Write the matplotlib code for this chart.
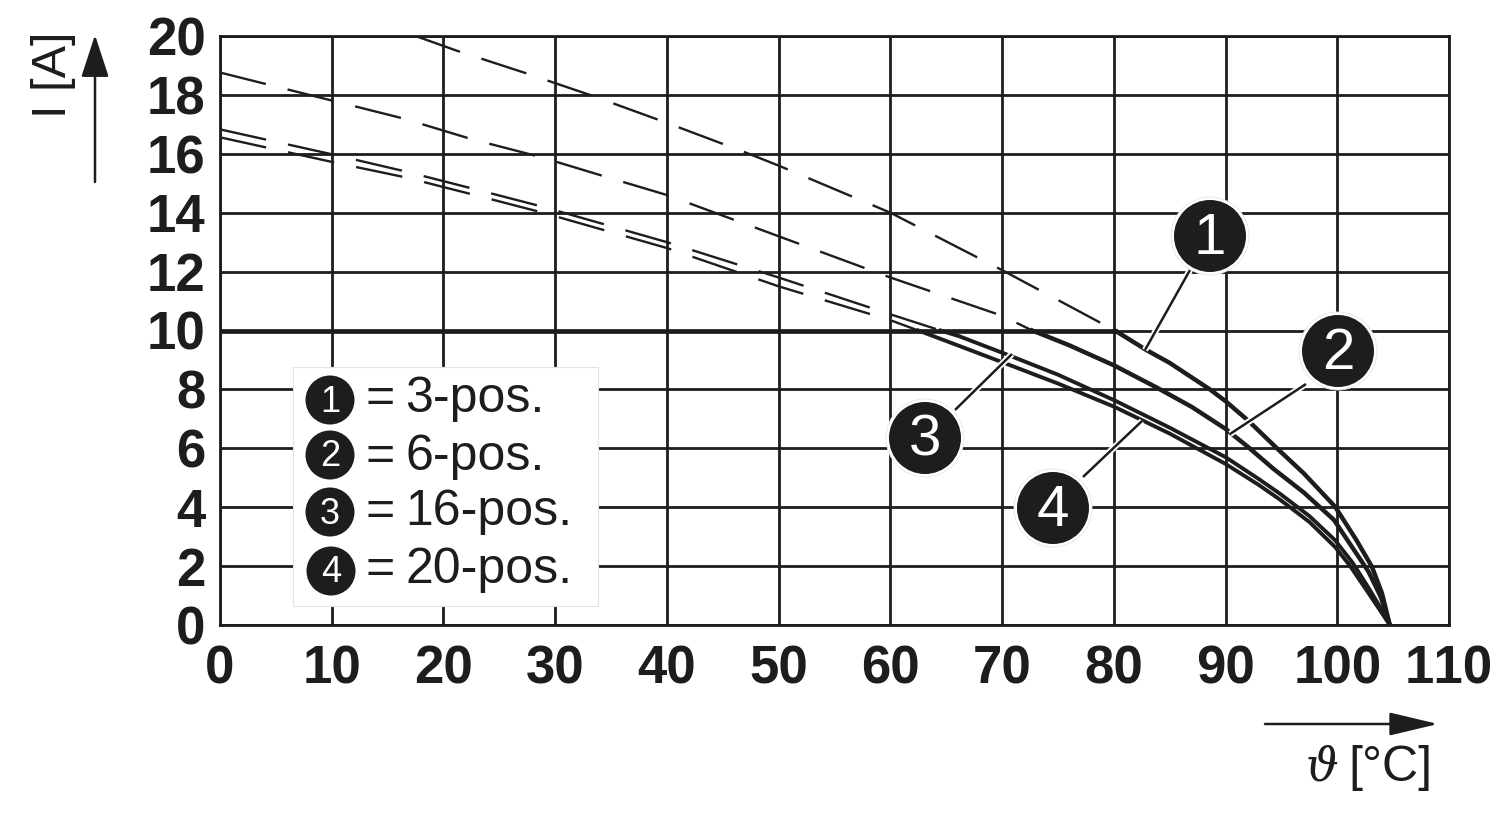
import numpy as np
import matplotlib
matplotlib.use("Agg")
from matplotlib import pyplot as plt
from matplotlib.patches import Circle, Rectangle

plt.rcParams['font.family'] = ['Liberation Sans', 'DejaVu Sans']
plt.rcParams['text.kerning_factor'] = 10

INK = '#1d1d1b'

# values: temperature, current
dash1_x = [17.5, 21.2, 27.2, 33.1, 40, 47, 50, 60, 70, 80.1]
dash1_y = [20, 19.5, 18.76, 18, 17.05, 16.05, 15.6, 14, 12.05, 10]
dash2_x = [0, 10.1, 16.4, 22.5, 28.6, 34.7, 40, 50, 60, 70, 72.7]
dash2_y = [18.76, 17.8, 17.2, 16.5, 15.9, 15.2, 14.6, 13.2, 11.8, 10.5, 10]
dash3_x = [0, 10.3, 16.6, 22.8, 28.9, 40, 50, 60, 64.5]
dash3_y = [16.83, 15.96, 15.4, 14.8, 14.2, 13, 11.8, 10.55, 10]
dash4_x = [0, 10.3, 16.6, 22.8, 28.9, 40, 50, 60, 62.5]
dash4_y = [16.56, 15.7, 15.2, 14.6, 14, 12.8, 11.5, 10.35, 10]

solid1_x = [80.1, 82.9, 85, 88.6, 90, 92, 94.6, 97, 99.8, 101.7, 103.1, 104, 104.7]
solid1_y = [10, 9.34, 8.9, 8.0, 7.6, 6.95, 6.0, 5.15, 4.02, 2.89, 1.98, 1.08, 0]
solid2_x = [72.7, 76, 80.1, 83.8, 87, 90, 92, 94.3, 97, 99.7, 101.3, 102.8, 103.9, 104.7]
solid2_y = [10, 9.5, 8.8, 8.07, 7.4, 6.66, 6.05, 5.3, 4.5, 3.57, 2.66, 1.81, 0.95, 0]
solid3_x = [64.5, 66.2, 70.8, 75, 80.1, 85, 90, 93, 94.9, 97.5, 99.8, 101.4, 102.9, 104, 104.7]
solid3_y = [10, 9.8, 9.13, 8.5, 7.62, 6.7, 5.7, 4.95, 4.45, 3.7, 2.88, 2.1, 1.2, 0.5, 0]
solid4_x = [62.5, 66, 70.8, 75, 80.1, 85, 90, 93, 94.9, 97.5, 99.8, 101.1, 102.8, 104, 104.7]
solid4_y = [10, 9.5, 8.81, 8.2, 7.4, 6.5, 5.47, 4.75, 4.25, 3.5, 2.65, 2.03, 1.08, 0.4, 0]

limit_x = [0, 80.1]
limit_y = [10, 10]

x_ticks = list(range(0, 120, 10))
y_ticks = list(range(0, 22, 2))

legend_items = ['3-pos.', '6-pos.', '16-pos.', '20-pos.']

fig = plt.figure(figsize=(15, 8.15), dpi=100)
ax = fig.add_axes([220/1500, 1-625/815, (1449-220)/1500, (625-36)/815])
ax.set_xlim(0, 110)
ax.set_ylim(0, 20)
ax.set_xticks(x_ticks)
ax.set_yticks(y_ticks)
ax.grid(True, color=INK, lw=2.0)
ax.set_axisbelow(True)
ax.tick_params(length=0, labelsize=38, colors=INK)
ax.tick_params(axis='x', pad=14)
ax.tick_params(axis='y', pad=10.5)
for lab in ax.get_xticklabels() + ax.get_yticklabels():
    lab.set_fontweight('bold')
for s in ax.spines.values():
    s.set_linewidth(2.0)
    s.set_color(INK)

for x, y in [(dash1_x, dash1_y), (dash2_x, dash2_y), (dash3_x, dash3_y), (dash4_x, dash4_y)]:
    ax.plot(x, y, color=INK, lw=1.7, dashes=(20, 9.5), zorder=3)

ax.plot(limit_x, limit_y, color=INK, lw=3.4, zorder=4)
ax.plot(solid1_x, solid1_y, color=INK, lw=3.2, zorder=4, solid_joinstyle='round')
ax.plot(solid2_x, solid2_y, color=INK, lw=3.2, zorder=4, solid_joinstyle='round')
ax.plot(solid3_x, solid3_y, color=INK, lw=2.8, zorder=4, solid_joinstyle='round')
ax.plot(solid4_x, solid4_y, color=INK, lw=2.8, zorder=4, solid_joinstyle='round')

# everything below is placed in image pixels
overlay = fig.add_axes([0, 0, 1, 1], facecolor='none')
overlay.set_xlim(0, 1500)
overlay.set_ylim(815, 0)
overlay.axis('off')


def bubble(cx, cy, r, txt, size, halo=3):
    overlay.add_patch(Circle((cx, cy), r + halo, fc='white', ec='#e6e6e6', lw=0.6, zorder=6))
    overlay.add_patch(Circle((cx, cy), r, fc=INK, ec='none', zorder=7))
    overlay.text(cx, cy + 3, txt, color='white', fontsize=size, ha='center', va='center', zorder=8)


def leader(x0, y0, x1, y1):
    overlay.plot([x0, x1], [y0, y1], color='white', lw=4.5, zorder=5, solid_capstyle='butt')
    overlay.plot([x0, x1], [y0, y1], color=INK, lw=1.8, zorder=5.5, solid_capstyle='butt')


leader(1190, 270, 1145, 350)
leader(1306, 384, 1230, 434)
leader(955, 410, 1012, 354)
leader(1083, 477, 1142, 421)
bubble(1210, 236, 36, '1', 42)
bubble(1338, 351, 36, '2', 42)
bubble(925, 438, 36, '3', 42)
bubble(1053, 508, 36, '4', 42)

overlay.add_patch(Rectangle((293, 367), 305, 239, fc='white', ec='#e2e2e2', lw=0.8, zorder=5))
rows = zip([400, 455, 512, 571], [412, 470, 525, 583], [330, 330, 330, 331], legend_items)
for i, (cy, base, cx, name) in enumerate(rows):
    overlay.add_patch(Circle((cx, cy), 24.5, fc=INK, ec='none', zorder=7))
    overlay.text(cx, cy + 2, str(i + 1), color='white', fontsize=26, ha='center', va='center', zorder=8)
    overlay.text(365, base, '=', color=INK, fontsize=36, ha='left', va='baseline', zorder=8)
    overlay.text(405, base, name, color=INK, fontsize=36, ha='left', va='baseline', zorder=8)

overlay.text(53, 75, 'I [A]', color=INK, fontsize=35, rotation=90, ha='center', va='center')
overlay.annotate('', xy=(95, 35), xytext=(95, 182),
                 arrowprops=dict(arrowstyle='-|>,head_length=1.1,head_width=0.36', color=INK, lw=1.8,
                                 shrinkA=0, shrinkB=0, mutation_scale=24))
overlay.annotate('', xy=(1438, 724), xytext=(1265, 724),
                 arrowprops=dict(arrowstyle='-|>,head_length=1.26,head_width=0.3', color=INK, lw=1.8,
                                 shrinkA=0, shrinkB=0, mutation_scale=24))
overlay.text(1322, 768, '\u03d1', color=INK, fontsize=33, family='DejaVu Serif', style='italic',
             ha='center', va='center')
overlay.text(1432, 768, '[°C]', color=INK, fontsize=36, ha='right', va='center')

fig.savefig('out.png', dpi=100)
